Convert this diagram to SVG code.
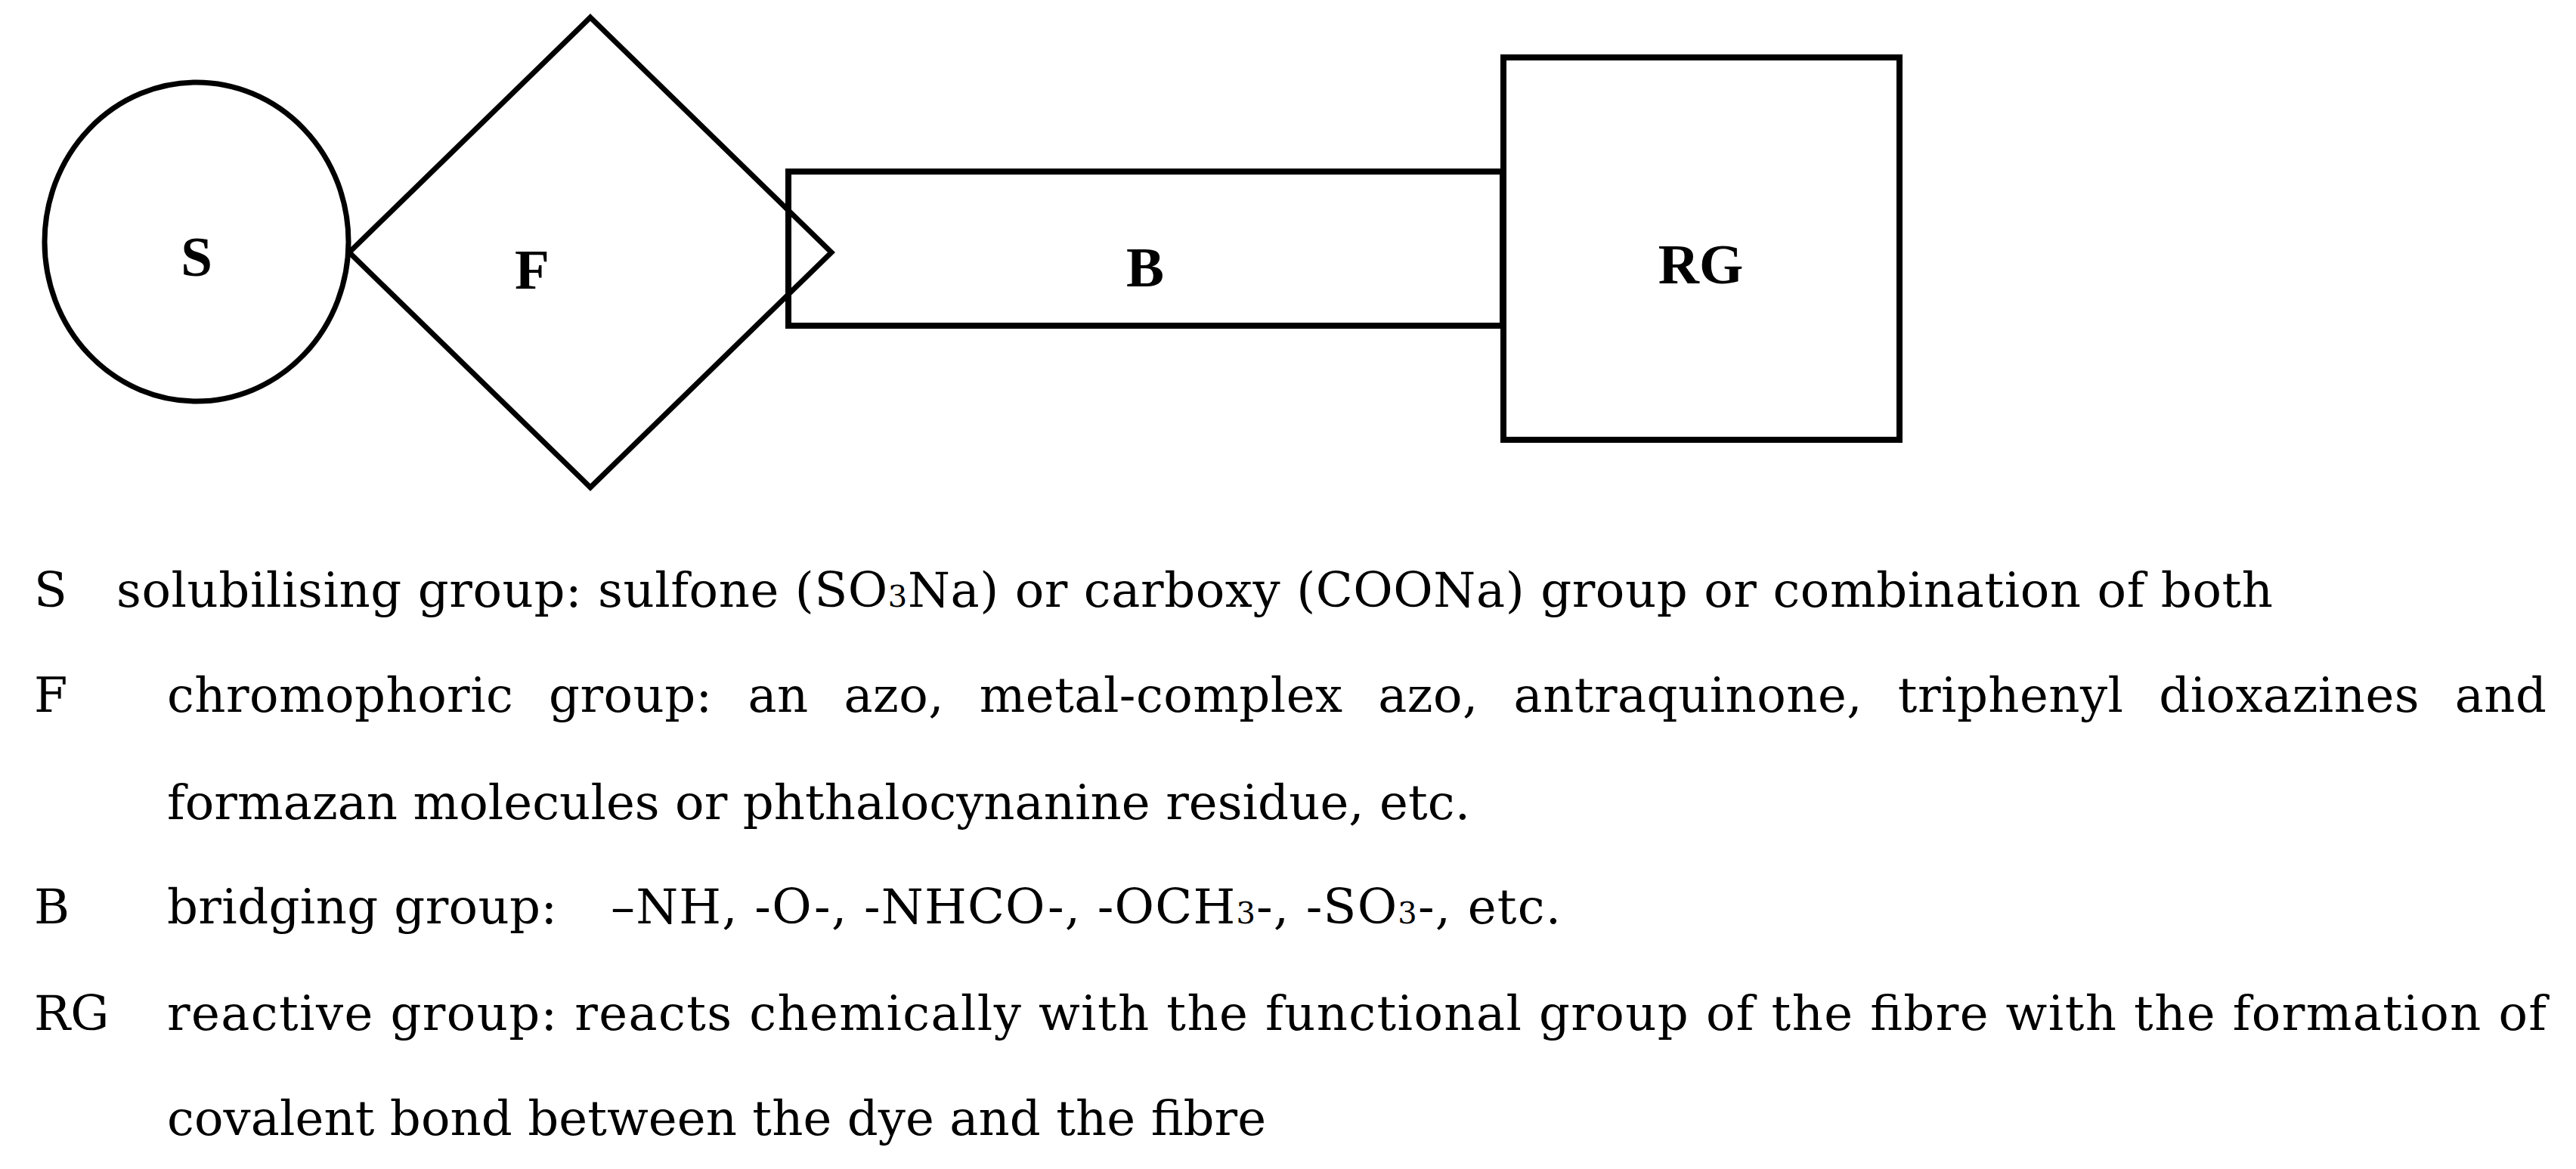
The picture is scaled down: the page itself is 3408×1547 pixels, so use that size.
<svg xmlns="http://www.w3.org/2000/svg" width="3408" height="1547" viewBox="0 0 3408 1547">
<style>
.shape{fill:none;stroke:#000;stroke-width:7;stroke-linejoin:miter}
.rect{fill:none;stroke:#000;stroke-width:8}
.lbl{font-family:"Liberation Serif","Times New Roman",serif;font-weight:bold;font-size:75px;fill:#000;text-anchor:middle}
.leg{font-family:"DejaVu Serif","Liberation Serif",serif;font-size:64px;fill:#000}
.sub{font-size:40px}
</style>
<rect x="0" y="0" width="3408" height="1547" fill="#fff"/>
<g id="node-S">
<ellipse class="shape" cx="260" cy="320" rx="201" ry="211"/>
<text class="lbl" x="260" y="365">S</text>
</g>
<g id="node-F">
<polygon class="shape" points="781,23 1100,334 781,645 462,334"/>
<text class="lbl" x="704" y="382">F</text>
</g>
<g id="node-B">
<rect class="rect" x="1043" y="227" width="945" height="204"/>
<text class="lbl" x="1515" y="379">B</text>
</g>
<g id="node-RG">
<rect class="rect" x="1989" y="76" width="524" height="506"/>
<text class="lbl" x="2250" y="375">RG</text>
</g>
<g id="connectors"></g>
<g id="legend" class="leg">
<text x="45" y="803">S</text>
<text x="154" y="803" textLength="2853" lengthAdjust="spacing">solubilising group: sulfone (SO<tspan class="sub">3</tspan>Na) or carboxy (COONa) group or combination of both</text>
<text x="45" y="942">F</text>
<text x="221" y="942" textLength="3148" lengthAdjust="spacing" word-spacing="26">chromophoric group: an azo, metal-complex azo, antraquinone, triphenyl dioxazines and</text>
<text x="221" y="1084" textLength="1724" lengthAdjust="spacing">formazan molecules or phthalocynanine residue, etc.</text>
<text x="45" y="1222">B</text>
<text x="221" y="1222" textLength="516" lengthAdjust="spacing">bridging group:</text>
<text x="808" y="1222" textLength="1257" lengthAdjust="spacing">–NH, -O-, -NHCO-, -OCH<tspan class="sub">3</tspan>-, -SO<tspan class="sub">3</tspan>-, etc.</text>
<text x="45" y="1363">RG</text>
<text x="221" y="1363" textLength="3148" lengthAdjust="spacing">reactive group: reacts chemically with the functional group of the fibre with the formation of</text>
<text x="221" y="1502" textLength="1454" lengthAdjust="spacing">covalent bond between the dye and the fibre</text>
</g>
</svg>
